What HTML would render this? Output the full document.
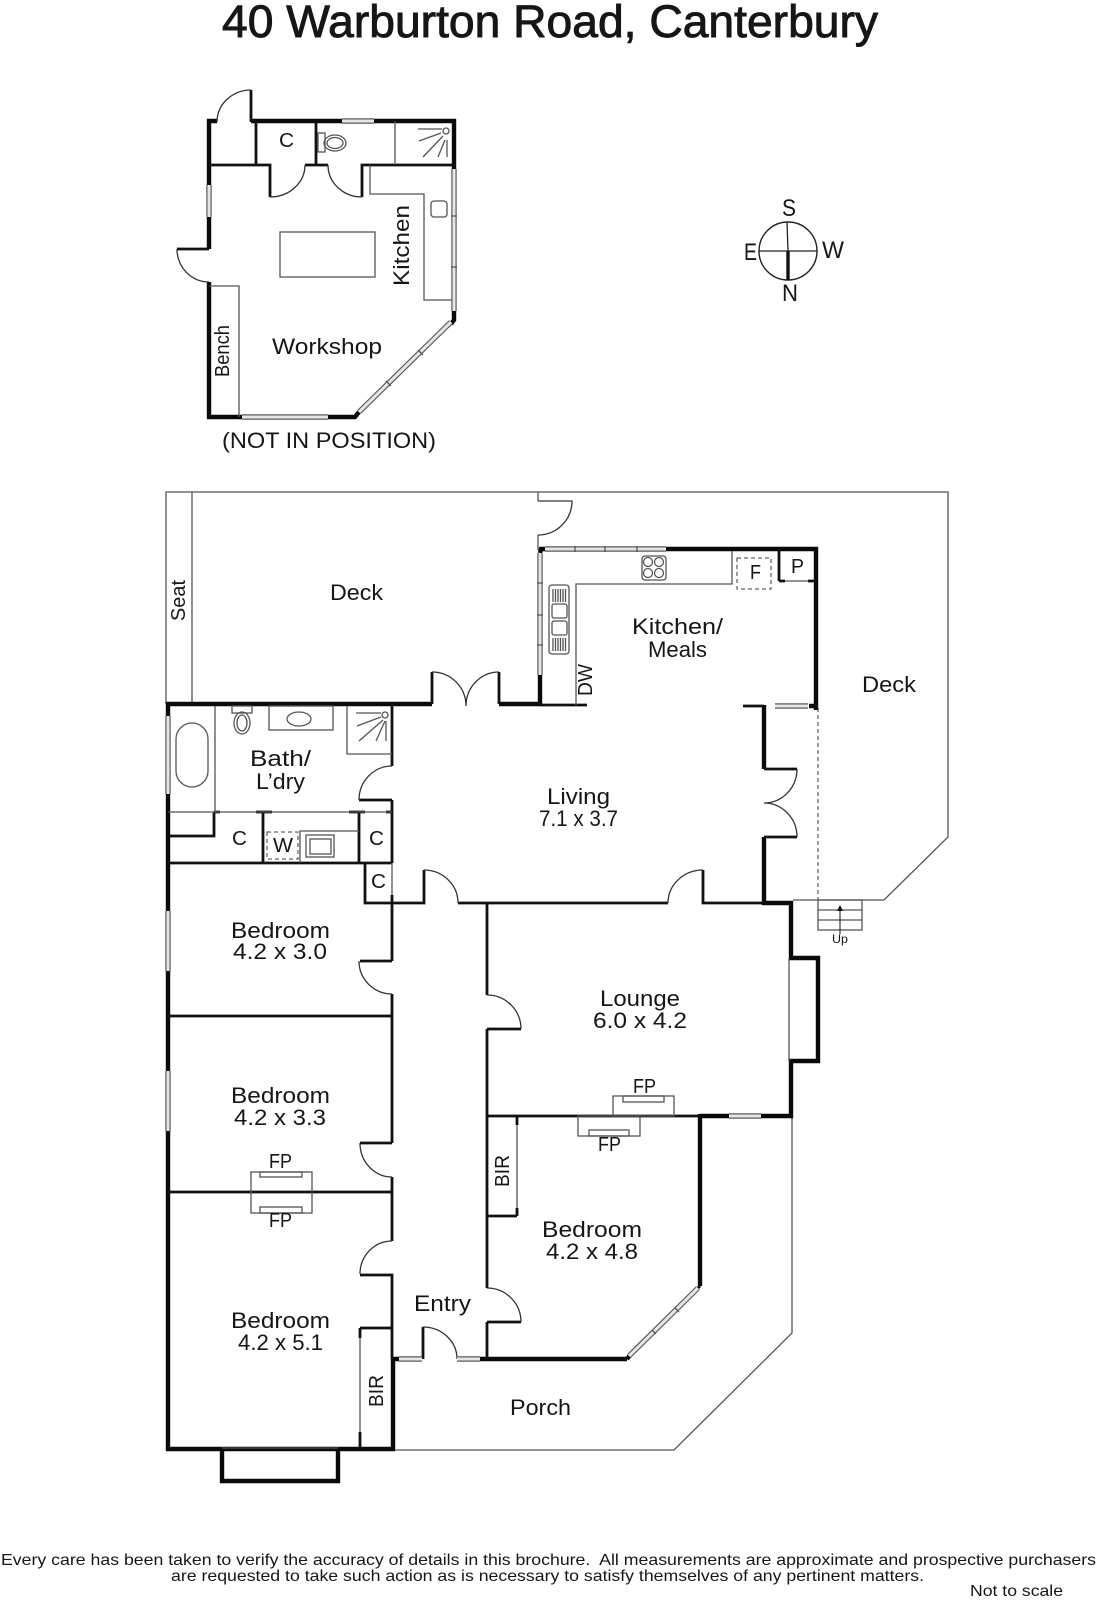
<!DOCTYPE html>
<html lang="en">
<head>
<meta charset="utf-8">
<title>40 Warburton Road, Canterbury</title>
<style>
html,body{margin:0;padding:0;background:#fff;width:1097px;height:1600px;overflow:hidden}
svg{display:block}
text{font-family:"Liberation Sans",sans-serif;fill:#161616;font-size:22.5px}
path,rect,circle,ellipse,line{fill:none}
.t{stroke:#0a0a0a;stroke-width:4.4}
.m{stroke:#111;stroke-width:2.8}
.g{stroke:#555;stroke-width:1.3}
.a{stroke:#333;stroke-width:1.3}
.d{stroke:#666;stroke-width:1.3;stroke-dasharray:4 3}
.wo{stroke:#5a5a5a;stroke-width:5.4}
.wi{stroke:#e6e6e6;stroke-width:3}
.s{font-size:20px}
</style>
</head>
<body>
<svg xmlns="http://www.w3.org/2000/svg" width="1097" height="1600" viewBox="0 0 1097 1600">
<rect x="0" y="0" width="1097" height="1600" style="fill:#fff"/>

<text x="222" y="37" textLength="656" lengthAdjust="spacingAndGlyphs" style="font-size:45px;stroke:#161616;stroke-width:.9">40 Warburton Road, Canterbury</text>

<!-- WORKSHOP -->
<path class="t" d="M251 121H456M217 121H207M209 119V249M209 282V419M207 417H355L359 412M454 119V170M454 311V320L451 324"/>
<path class="m" d="M209 165H270V197M305 165H328M362 197V165H456M256 121V165M316 121V165M209 249H177M251 122V90"/>
<path class="a" d="M251 90A34 32 0 0 0 217 122M270 197A35 32 0 0 0 305 165M362 197A34 32 0 0 1 328 165M177 249A32 33 0 0 0 209 282"/>
<path class="g" d="M209 286H239V417M370 165V194H424V300H452M395 121V165"/>
<rect class="g" x="280" y="232" width="95" height="45"/>
<rect class="g" x="431" y="201" width="16" height="16" rx="3"/>
<rect class="g" x="318" y="133" width="7" height="19"/>
<ellipse class="g" cx="335" cy="143" rx="11" ry="8"/>
<ellipse class="g" cx="335" cy="143" rx="8" ry="5.5"/>
<circle class="g" cx="446" cy="131" r="3"/>
<path class="g" d="M442 129H418M441 133L419 141M443 136L423 157M445 140L438 157M447 140V157"/>
<path class="wo" d="M342 121H374M209 185V217M454 169V311M242 417H328M451 322L359 412"/>
<path class="wi" d="M342 121H374M209 185V217M454 169V311M242 417H328M451 322L359 412"/>
<path class="g" d="M451 216H457M451 267H457M418 350L423 355M386 381L391 386"/>
<text x="279" y="147" textLength="15" lengthAdjust="spacingAndGlyphs" class="s">C</text>
<text transform="translate(409 286) rotate(-90)" textLength="81" lengthAdjust="spacingAndGlyphs">Kitchen</text>
<text x="272" y="354" textLength="110" lengthAdjust="spacingAndGlyphs">Workshop</text>
<text transform="translate(229 377) rotate(-90)" textLength="52" lengthAdjust="spacingAndGlyphs" class="s">Bench</text>
<text x="222" y="448" textLength="214" lengthAdjust="spacingAndGlyphs">(NOT IN POSITION)</text>

<!-- COMPASS -->
<circle cx="788" cy="251" r="29" style="stroke:#222;stroke-width:1.4"/>
<path style="stroke:#222;stroke-width:1.3" d="M759 251H817M787 222L788 251"/>
<path style="stroke:#111;stroke-width:3.4" d="M788 251V280"/>
<text x="782" y="216" textLength="14" lengthAdjust="spacingAndGlyphs" style="font-size:24px">S</text>
<text x="744" y="260" textLength="13" lengthAdjust="spacingAndGlyphs" style="font-size:24px">E</text>
<text x="822" y="258" textLength="22" lengthAdjust="spacingAndGlyphs" style="font-size:24px">W</text>
<text x="782" y="301" textLength="16" lengthAdjust="spacingAndGlyphs" style="font-size:24px">N</text>

<!-- DECK OUTLINES -->
<path class="g" d="M166 704V492H948V837L884 900H793M192 492V703M538 492V501M538 535V550M792 1116V1333L674 1450H395"/>
<path class="a" d="M538 501H572A34 34 0 0 1 538 535"/>
<path class="d" d="M818 708V900"/>
<rect class="g" x="818" y="900" width="44" height="30"/>
<path class="g" d="M818 910H862M818 920H862"/>
<path style="stroke:#222;stroke-width:1.1" d="M840 934V908"/>
<path d="M840 905L837 911H843Z" style="fill:#111"/>
<text x="832" y="943" textLength="16" lengthAdjust="spacingAndGlyphs" style="font-size:12px">Up</text>

<!-- MAIN THICK WALLS -->
<path class="t" d="M166 704H432M499 704H542M540 706V675M666 549H818M816 547V710M809 706H818M764 705V769M764 837V905M762 903H793M791 901V960M789 958H820M818 956V1063M820 1061H789M791 1059V1118M700 1116H793M700 1114V1286M627 1359H480M627 1359L631 1354M168 702V716M168 794V911M168 971V1071M168 1131V1451M166 1449H395M393 1358V1451M222 1449V1481H338V1449M392 1359H399"/>
<path class="t" d="M540 553L541 549L545 549"/>
<path class="t" style="stroke-width:3" d="M700 1286L696 1290"/>

<!-- MEDIUM WALLS -->
<path class="m" d="M432 704V672M499 704V672M540 705H587M743 706H764M764 769H797M764 837H797M392 704V766M392 800V863M359 800H392M392 895V961M392 994V1143M360 961H392M168 863H392M168 1016H392M360 1143H392M392 1177V1241M168 1192H392M360 1275H392V1358M360 1328H392M423 1359V1327M214 812V836H168M263 812V863M359 812V863M214 812H220M256 812H272M349 812H365M386 812H392M365 863V903H424V870M458 903H668M703 870V903H764M487 903V995M487 1029V1288M521 1029H487M521 1322H487M487 1322V1359M487 1116H700M487 1216H517M779 549V581M779 581H785M808 581H816"/>
<path class="m" d="M360 1328V1338M360 1432V1449M517 1116V1125M517 1208V1216"/>

<!-- ARCS -->
<path class="a" d="M432 672A34 34 0 0 1 466 706M499 672A33 34 0 0 0 466 706M392 766A33 34 0 0 0 359 800M424 870A34 33 0 0 1 458 903M703 870A35 33 0 0 0 668 903M797 769A33 34 0 0 1 764 803M764 803A33 34 0 0 1 797 837M359 961A33 33 0 0 0 392 994M360 1143A32 34 0 0 0 392 1177M392 1241A32 33 0 0 0 360 1274M487 995A34 34 0 0 1 521 1029M487 1288A34 34 0 0 1 521 1322M423 1327A34 32 0 0 1 457 1359"/>

<!-- THIN DETAIL -->
<path class="g" d="M215 706V812M168 812H392M360 1338V1432M517 1125V1208M785 581H808M576 705V584H732V551M789 958V1061M222 1448H338M392 863V895"/>

<!-- BATH FIXTURES -->
<rect class="g" x="176" y="723" width="32" height="64" rx="16"/>
<rect class="g" x="232" y="706" width="20" height="7"/>
<ellipse class="g" cx="242" cy="723" rx="8" ry="11"/>
<ellipse class="g" cx="242" cy="723" rx="5" ry="8"/>
<rect class="g" x="269" y="706" width="64" height="24"/>
<ellipse class="g" cx="299" cy="719" rx="12" ry="7"/>
<path class="g" d="M347 706V754H392"/>
<circle class="g" cx="385" cy="715" r="3"/>
<path class="g" d="M381 713H356M381 717L357 726M383 720L359 741M385 721L376 741M386 721V741"/>
<rect class="d" x="267" y="832" width="31" height="27"/>
<path class="g" d="M359 831H300V863"/>
<rect class="g" x="306" y="835" width="28" height="22"/>
<rect class="g" x="310" y="839" width="21" height="15"/>

<!-- KITCHEN FIXTURES -->
<rect class="g" x="642" y="556" width="24" height="24" rx="3"/>
<circle class="g" cx="648" cy="562" r="4.5"/><circle class="g" cx="659" cy="562" r="4.5"/>
<circle class="g" cx="648" cy="573" r="4.5"/><circle class="g" cx="659" cy="573" r="4.5"/>
<rect class="d" x="737" y="558" width="34" height="31"/>
<rect class="g" x="549" y="585" width="20" height="69" rx="3"/>
<rect class="g" x="552" y="604" width="15" height="14" rx="2"/>
<rect class="g" x="552" y="621" width="15" height="14" rx="2"/>
<path class="g" d="M553 589V602M555.500 589V602M558 589V602M560.500 589V602M563 589V602M565.500 589V602M553 638V651M555.500 638V651M558 638V651M560.500 638V651M563 638V651M565.500 638V651"/>

<!-- FIREPLACES -->
<rect class="g" x="251" y="1172" width="61" height="41"/>
<rect class="g" x="260" y="1172" width="42" height="5"/>
<rect class="g" x="260" y="1207" width="42" height="6"/>
<rect class="g" x="613" y="1096" width="61" height="20"/>
<rect class="g" x="623" y="1096" width="41" height="6"/>
<rect class="g" x="578" y="1116" width="62" height="20"/>
<rect class="g" x="589" y="1130" width="40" height="6"/>

<!-- WINDOWS -->
<path class="wo" d="M545 549H666M540 553V675M775 706H808M168 716V794M168 911V971M168 1071V1131M399 1359H422M457 1359H480M729 1116H761M698 1288L629 1356"/>
<path class="wi" d="M545 549H666M540 553V675M775 706H808M168 716V794M168 911V971M168 1071V1131M399 1359H422M457 1359H480M729 1116H761M698 1288L629 1356"/>
<path class="g" d="M575 546V552M605 546V552M637 546V552M537 583H543M537 615H543M537 645H543M675 1308L679 1312M652 1330L656 1334"/>

<!-- LABELS -->
<text x="330" y="600" textLength="53" lengthAdjust="spacingAndGlyphs">Deck</text>
<text transform="translate(185 621) rotate(-90)" textLength="41" lengthAdjust="spacingAndGlyphs" class="s">Seat</text>
<text x="250" y="766" textLength="61" lengthAdjust="spacingAndGlyphs">Bath/</text>
<text x="256" y="789" textLength="49" lengthAdjust="spacingAndGlyphs">L’dry</text>
<text x="232" y="845" textLength="15" lengthAdjust="spacingAndGlyphs" class="s">C</text>
<text x="369" y="845" textLength="15" lengthAdjust="spacingAndGlyphs" class="s">C</text>
<text x="371" y="888" textLength="15" lengthAdjust="spacingAndGlyphs" class="s">C</text>
<text x="273" y="852" textLength="20" lengthAdjust="spacingAndGlyphs" class="s">W</text>
<text x="750" y="579" textLength="11" lengthAdjust="spacingAndGlyphs" class="s">F</text>
<text x="791" y="573" textLength="13" lengthAdjust="spacingAndGlyphs" class="s">P</text>
<text transform="translate(592 696) rotate(-90)" textLength="32" lengthAdjust="spacingAndGlyphs" class="s">DW</text>
<text x="632" y="634" textLength="91" lengthAdjust="spacingAndGlyphs">Kitchen/</text>
<text x="648" y="657" textLength="59" lengthAdjust="spacingAndGlyphs">Meals</text>
<text x="862" y="692" textLength="54" lengthAdjust="spacingAndGlyphs">Deck</text>
<text x="547" y="804" textLength="63" lengthAdjust="spacingAndGlyphs">Living</text>
<text x="539" y="826" textLength="79" lengthAdjust="spacingAndGlyphs">7.1 x 3.7</text>
<text x="231" y="938" textLength="99" lengthAdjust="spacingAndGlyphs">Bedroom</text>
<text x="233" y="959" textLength="94" lengthAdjust="spacingAndGlyphs">4.2 x 3.0</text>
<text x="231" y="1103" textLength="99" lengthAdjust="spacingAndGlyphs">Bedroom</text>
<text x="234" y="1125" textLength="92" lengthAdjust="spacingAndGlyphs">4.2 x 3.3</text>
<text x="231" y="1328" textLength="99" lengthAdjust="spacingAndGlyphs">Bedroom</text>
<text x="238" y="1350" textLength="85" lengthAdjust="spacingAndGlyphs">4.2 x 5.1</text>
<text x="600" y="1006" textLength="80" lengthAdjust="spacingAndGlyphs">Lounge</text>
<text x="593" y="1028" textLength="94" lengthAdjust="spacingAndGlyphs">6.0 x 4.2</text>
<text x="542" y="1237" textLength="100" lengthAdjust="spacingAndGlyphs">Bedroom</text>
<text x="546" y="1259" textLength="92" lengthAdjust="spacingAndGlyphs">4.2 x 4.8</text>
<text x="414" y="1311" textLength="57" lengthAdjust="spacingAndGlyphs">Entry</text>
<text x="510" y="1415" textLength="61" lengthAdjust="spacingAndGlyphs">Porch</text>
<text x="269" y="1168" textLength="23" lengthAdjust="spacingAndGlyphs" class="s">FP</text>
<text x="269" y="1227" textLength="23" lengthAdjust="spacingAndGlyphs" class="s">FP</text>
<text x="633" y="1093" textLength="23" lengthAdjust="spacingAndGlyphs" class="s">FP</text>
<text x="598" y="1151" textLength="23" lengthAdjust="spacingAndGlyphs" class="s">FP</text>
<text transform="translate(509 1187) rotate(-90)" textLength="32" lengthAdjust="spacingAndGlyphs" class="s">BIR</text>
<text transform="translate(383 1407) rotate(-90)" textLength="32" lengthAdjust="spacingAndGlyphs" class="s">BIR</text>

<!-- FOOTER -->
<text x="1" y="1565" textLength="1095" lengthAdjust="spacingAndGlyphs" style="font-size:16px">Every care has been taken to verify the accuracy of details in this brochure.&#160; All measurements are approximate and prospective purchasers</text>
<text x="171" y="1581" textLength="753" lengthAdjust="spacingAndGlyphs" style="font-size:16px">are requested to take such action as is necessary to satisfy themselves of any pertinent matters.</text>
<text x="970" y="1596" textLength="93" lengthAdjust="spacingAndGlyphs" style="font-size:16px">Not to scale</text>
</svg>
</body>
</html>
